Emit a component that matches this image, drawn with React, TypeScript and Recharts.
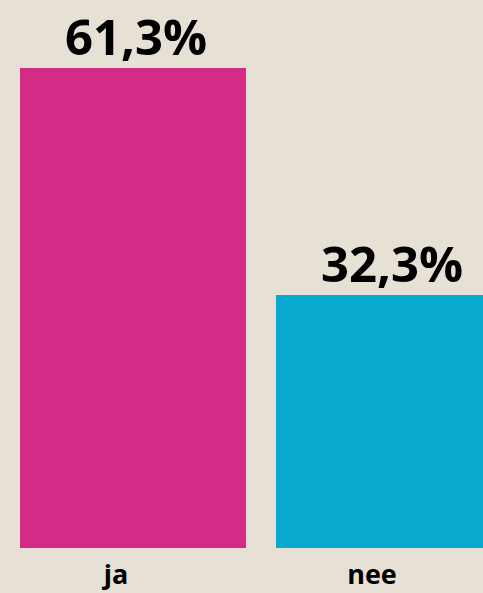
import { BarChart, Bar, XAxis, YAxis, Cell, LabelList } from 'recharts';

const categories = ['ja', 'nee'];
const values = [61.3, 32.3];
const colors = ['#d42b86', '#0aa9d0'];

const data = categories.map((label, i) => ({ label, value: values[i] }));

const FONT = '"Open Sans", "DejaVu Sans", sans-serif';

function CategoryTick({ x, y, payload }: any) {
  return (
    <text
      x={x - 17}
      y={y + 28}
      textAnchor="middle"
      fontFamily={FONT}
      fontWeight={700}
      fontSize={27}
      fill="#000"
    >
      {payload.value}
    </text>
  );
}

export default function App() {
  return (
    <div
      style={{
        position: 'absolute',
        left: 0,
        top: 0,
        width: 483,
        height: 593,
        overflow: 'hidden',
        background: '#e6e0d5',
      }}
    >
      <BarChart width={522} height={593} data={data} margin={{ top: 68, right: 5, left: 5, bottom: 0 }}>
        <XAxis dataKey="label" axisLine={false} tickLine={false} height={45} tick={<CategoryTick />} interval={0} />
        <YAxis hide domain={[0, 'dataMax']} />
        <Bar dataKey="value" barSize={226} isAnimationActive={false}>
          {data.map((d, i) => (
            <Cell key={d.label} fill={colors[i]} />
          ))}
          <LabelList
            dataKey="value"
            position="top"
            offset={13}
            formatter={(v: any) => `${String(v).replace('.', ',')}%`}
            style={{ fontFamily: FONT, fontWeight: 700, fontSize: 49, fill: '#000', transform: 'translateX(3px)' }}
          />
        </Bar>
      </BarChart>
    </div>
  );
}
